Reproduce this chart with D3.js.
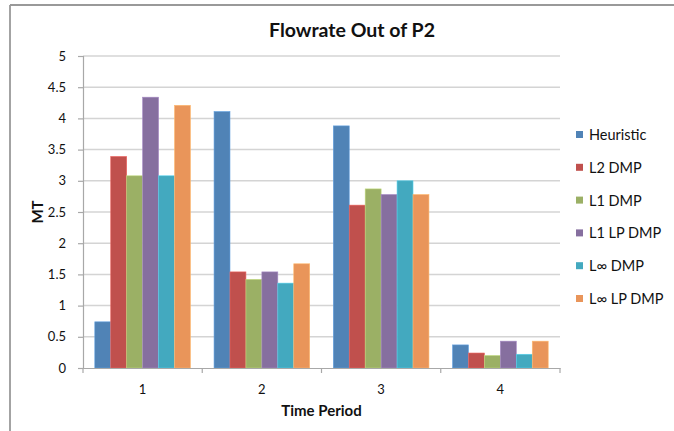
<!DOCTYPE html>
<html>
<head>
<meta charset="utf-8">
<script src="https://cdn.jsdelivr.net/npm/d3@7/dist/d3.min.js"></script>
<style>
  html, body { margin: 0; padding: 0; background: #fff; }
  svg { display: block; font-family: Lato, "Open Sans", sans-serif; }
</style>
</head>
<body>
<svg id="chart" width="674" height="431"></svg>
<script>
// Time periods on the x axis
const periods = ["1", "2", "3", "4"];

// Series names, in legend order
const seriesNames = ["Heuristic", "L2 DMP", "L1 DMP", "L1 LP DMP", "L\u221E DMP", "L\u221E LP DMP"];

// Flowrate (MT) per series, one value per time period
const heuristic = [0.74, 4.11, 3.88, 0.37];
const l2Dmp     = [3.39, 1.54, 2.61, 0.24];
const l1Dmp     = [3.08, 1.42, 2.87, 0.20];
const l1LpDmp   = [4.34, 1.54, 2.78, 0.43];
const lInfDmp   = [3.08, 1.36, 3.00, 0.22];
const lInfLpDmp = [4.21, 1.67, 2.78, 0.43];

const seriesValues = [heuristic, l2Dmp, l1Dmp, l1LpDmp, lInfDmp, lInfLpDmp];
const seriesColors = ["#5083B6", "#C0504D", "#9BB065", "#866F9F", "#43A9BF", "#E9955A"];

const yTicks = [0, 0.5, 1, 1.5, 2, 2.5, 3, 3.5, 4, 4.5, 5];

const svg = d3.select("#chart");

// Outer frame (top and left edges)
svg.append("line").attr("x1", 10).attr("y1", 5).attr("x2", 674).attr("y2", 5)
  .attr("stroke", "#999").attr("stroke-width", 1.8);
svg.append("line").attr("x1", 10).attr("y1", 5).attr("x2", 10).attr("y2", 431)
  .attr("stroke", "#999").attr("stroke-width", 1.8);

const plot = { left: 83, right: 560, top: 56, bottom: 368 };

const x0 = d3.scaleBand().domain(periods).range([plot.left, plot.right]).paddingInner(0).paddingOuter(0);
const x1 = d3.scaleBand().domain(seriesNames).range([0, x0.bandwidth()]).paddingInner(0).paddingOuter(0.74);
const y = d3.scaleLinear().domain([0, 5]).range([plot.bottom, plot.top]);

// Horizontal gridlines
svg.append("g")
  .selectAll("line")
  .data(yTicks.filter(d => d > 0))
  .join("line")
  .attr("x1", plot.left).attr("x2", plot.right)
  .attr("y1", d => y(d)).attr("y2", d => y(d))
  .attr("stroke", "#d4d4d4").attr("stroke-width", 1.5);

// Y axis
const yAxis = svg.append("g")
  .attr("transform", `translate(${plot.left},0)`)
  .call(d3.axisLeft(y).tickValues(yTicks).tickFormat(d3.format("")).tickSize(5).tickPadding(12));
yAxis.select(".domain").attr("stroke", "#a8a8a8").attr("stroke-width", 1.2);
yAxis.selectAll(".tick line").attr("stroke", "#a8a8a8").attr("stroke-width", 1.2);
yAxis.selectAll(".tick text").attr("font-size", 13).attr("fill", "#111")
  .attr("font-family", "Lato, sans-serif");

// Bars
const groups = svg.append("g")
  .selectAll("g")
  .data(seriesNames.map((name, i) => ({ name, values: seriesValues[i], color: seriesColors[i] })))
  .join("g")
  .attr("fill", d => d.color);

groups.selectAll("rect")
  .data(s => s.values.map((v, j) => ({ name: s.name, period: periods[j], value: v, color: s.color })))
  .join("rect")
  .attr("x", d => x0(d.period) + x1(d.name))
  .attr("y", d => y(d.value))
  .attr("width", x1.bandwidth())
  .attr("height", d => y(0) - y(d.value))
  .attr("stroke", d => d3.color(d.color).brighter(0.6))
  .attr("stroke-width", 0.6);

// X axis
const xAxis = svg.append("g")
  .attr("transform", `translate(0,${plot.bottom})`)
  .call(d3.axisBottom(x0).tickSize(0).tickPadding(17));
xAxis.select(".domain").attr("stroke", "#a8a8a8").attr("stroke-width", 1.2);
xAxis.selectAll(".tick text").attr("font-size", 13).attr("fill", "#111")
  .attr("font-family", "Lato, sans-serif");

// Boundary tick marks between periods
svg.append("g")
  .selectAll("line")
  .data(d3.range(periods.length + 1))
  .join("line")
  .attr("x1", i => plot.left + i * x0.step())
  .attr("x2", i => plot.left + i * x0.step())
  .attr("y1", plot.bottom).attr("y2", plot.bottom + 5)
  .attr("stroke", "#a8a8a8").attr("stroke-width", 1.2);

// Title
svg.append("text")
  .attr("x", 352).attr("y", 37)
  .attr("text-anchor", "middle")
  .attr("font-size", 19.5).attr("font-weight", "bold").attr("fill", "#111")
  .text("Flowrate Out of P2");

// Axis titles
svg.append("text")
  .attr("x", (plot.left + plot.right) / 2).attr("y", 416)
  .attr("text-anchor", "middle")
  .attr("font-size", 15).attr("font-weight", "bold").attr("fill", "#111")
  .text("Time Period");

svg.append("text")
  .attr("transform", "translate(43,212) rotate(-90)")
  .attr("text-anchor", "middle")
  .attr("font-size", 15).attr("font-weight", "bold").attr("fill", "#111")
  .text("MT");

// Legend
const legend = svg.append("g")
  .selectAll("g")
  .data(seriesNames)
  .join("g")
  .attr("transform", (d, i) => `translate(576,${135 + i * 32.8})`);

legend.append("rect")
  .attr("x", 0).attr("y", -4)
  .attr("width", 7).attr("height", 7)
  .attr("fill", (d, i) => seriesColors[i]);

legend.append("text")
  .attr("x", 13).attr("y", 0)
  .attr("dy", "0.35em")
  .attr("font-size", 14.5).attr("fill", "#111")
  .text(d => d);
</script>
</body>
</html>
